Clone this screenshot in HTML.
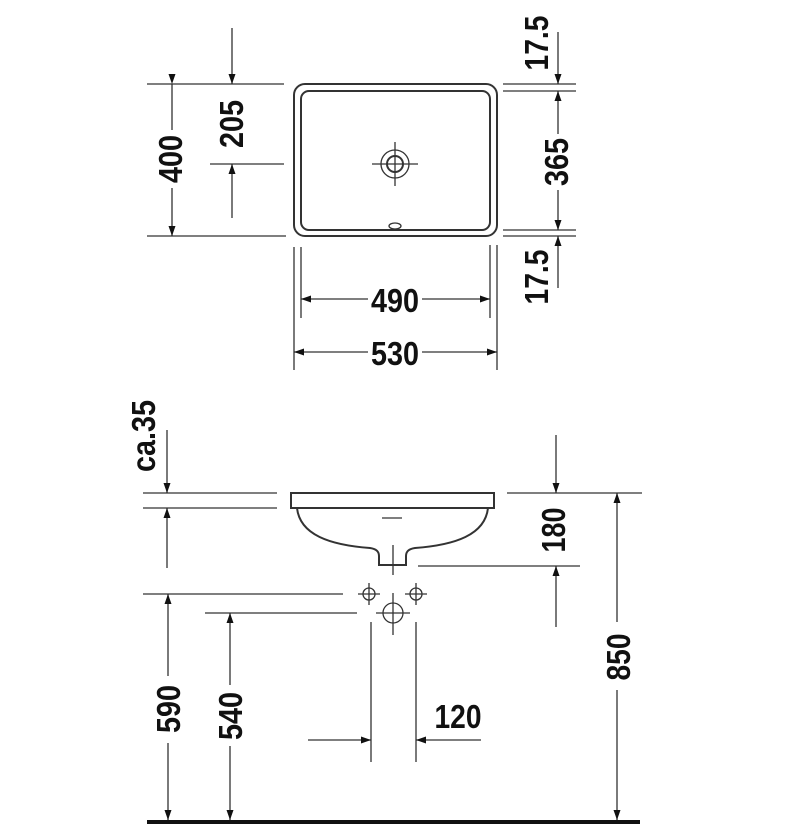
<!DOCTYPE html>
<html><head><style>
html,body{margin:0;padding:0;background:#fff;}
svg{display:block;}
text{font-family:"Liberation Sans",sans-serif;font-weight:bold;font-size:33px;fill:#111;}
</style></head><body>
<svg width="799" height="827" viewBox="0 0 799 827" xmlns="http://www.w3.org/2000/svg">
<defs>
<marker id="a" viewBox="0 0 10 10" refX="10" refY="5" markerWidth="15" markerHeight="10" markerUnits="userSpaceOnUse" orient="auto"><path d="M0,1.5 L10,5 L0,8.5 z" fill="#111"/></marker>
</defs>
<g stroke="#333" stroke-width="1.3" fill="none">
<rect x="294" y="84" width="203" height="152" rx="11" stroke-width="2"/>
<rect x="301" y="91" width="189" height="139" rx="8" stroke-width="2"/>
<circle cx="395" cy="164" r="14"/>
<circle cx="395" cy="164" r="8" stroke-width="2"/>
<line x1="372" y1="164" x2="418" y2="164"/>
<line x1="395" y1="142" x2="395" y2="186"/>
<ellipse cx="395" cy="226" rx="6" ry="3"/>
<line x1="147" y1="84" x2="284" y2="84"/>
<line x1="147" y1="236" x2="286" y2="236"/>
<line x1="210" y1="164" x2="284" y2="164"/>
<line x1="172" y1="84" x2="172" y2="130" marker-start="url(#a)"/>
<line x1="172" y1="188" x2="172" y2="236" marker-end="url(#a)"/>
<line x1="232" y1="28" x2="232" y2="84" marker-end="url(#a)"/>
<line x1="232" y1="218" x2="232" y2="164" marker-end="url(#a)"/>
<line x1="503" y1="84" x2="576" y2="84"/>
<line x1="503" y1="91" x2="576" y2="91"/>
<line x1="503" y1="230" x2="576" y2="230"/>
<line x1="503" y1="236" x2="576" y2="236"/>
<line x1="558" y1="32" x2="558" y2="84" marker-end="url(#a)"/>
<line x1="558" y1="134" x2="558" y2="91" marker-end="url(#a)"/>
<line x1="558" y1="190" x2="558" y2="230" marker-end="url(#a)"/>
<line x1="558" y1="288" x2="558" y2="236" marker-end="url(#a)"/>
<line x1="294" y1="247" x2="294" y2="370"/>
<line x1="301" y1="247" x2="301" y2="318"/>
<line x1="490" y1="245" x2="490" y2="318"/>
<line x1="497" y1="245" x2="497" y2="370"/>
<line x1="368" y1="299" x2="301" y2="299" marker-end="url(#a)"/>
<line x1="422" y1="299" x2="490" y2="299" marker-end="url(#a)"/>
<line x1="368" y1="352" x2="294" y2="352" marker-end="url(#a)"/>
<line x1="422" y1="352" x2="497" y2="352" marker-end="url(#a)"/>
<line x1="143" y1="493" x2="277" y2="493"/>
<line x1="507" y1="493" x2="642" y2="493"/>
<line x1="143" y1="508" x2="277" y2="508"/>
<rect x="291" y="493" width="203" height="15" stroke-width="2"/>
<path d="M297,508 C300,535 330,545 370,548 C377,549 379,552 379,556 L379,565 L406,565 L406,556 C406,552 408,549 415,548 C455,545 485,535 488,508" stroke-width="2"/>
<line x1="382" y1="518" x2="402" y2="518"/>
<line x1="393" y1="545" x2="393" y2="575"/>
<line x1="418" y1="566" x2="580" y2="566"/>
<line x1="167" y1="430" x2="167" y2="493" marker-end="url(#a)"/>
<line x1="167" y1="568" x2="167" y2="508" marker-end="url(#a)"/>
<line x1="556" y1="435" x2="556" y2="493" marker-end="url(#a)"/>
<line x1="556" y1="627" x2="556" y2="566" marker-end="url(#a)"/>
<line x1="617" y1="622" x2="617" y2="493" marker-end="url(#a)"/>
<line x1="617" y1="690" x2="617" y2="820" marker-end="url(#a)"/>
<line x1="143" y1="594" x2="343" y2="594"/>
<line x1="205" y1="613" x2="357" y2="613"/>
<line x1="168" y1="676" x2="168" y2="594" marker-end="url(#a)"/>
<line x1="168" y1="743" x2="168" y2="820" marker-end="url(#a)"/>
<line x1="230" y1="685" x2="230" y2="613" marker-end="url(#a)"/>
<line x1="230" y1="746" x2="230" y2="820" marker-end="url(#a)"/>
<circle cx="369" cy="594" r="6"/>
<line x1="358" y1="594" x2="380" y2="594"/><line x1="369" y1="583" x2="369" y2="605"/>
<circle cx="416" cy="594" r="6"/>
<line x1="405" y1="594" x2="427" y2="594"/><line x1="416" y1="583" x2="416" y2="605"/>
<circle cx="393" cy="613" r="10"/>
<line x1="376" y1="613" x2="410" y2="613"/><line x1="393" y1="593" x2="393" y2="635"/>
<line x1="371" y1="622" x2="371" y2="762"/>
<line x1="416" y1="622" x2="416" y2="762"/>
<line x1="308" y1="740" x2="371" y2="740" marker-end="url(#a)"/>
<line x1="481" y1="740" x2="416" y2="740" marker-end="url(#a)"/>
</g>
<line x1="147" y1="822" x2="640" y2="822" stroke="#111" stroke-width="4"/>
<text x="395" y="312" text-anchor="middle" textLength="48" lengthAdjust="spacingAndGlyphs">490</text>
<text x="395" y="365" text-anchor="middle" textLength="48" lengthAdjust="spacingAndGlyphs">530</text>
<text transform="translate(182,159) rotate(-90)" text-anchor="middle" textLength="48" lengthAdjust="spacingAndGlyphs">400</text>
<text transform="translate(243,124) rotate(-90)" text-anchor="middle" textLength="48" lengthAdjust="spacingAndGlyphs">205</text>
<text transform="translate(548,43) rotate(-90)" text-anchor="middle" textLength="55" lengthAdjust="spacingAndGlyphs">17.5</text>
<text transform="translate(568,162) rotate(-90)" text-anchor="middle" textLength="48" lengthAdjust="spacingAndGlyphs">365</text>
<text transform="translate(548,277) rotate(-90)" text-anchor="middle" textLength="55" lengthAdjust="spacingAndGlyphs">17.5</text>
<text transform="translate(155,436) rotate(-90)" text-anchor="middle" textLength="72" lengthAdjust="spacingAndGlyphs">ca.35</text>
<text transform="translate(565,530) rotate(-90)" text-anchor="middle" textLength="45" lengthAdjust="spacingAndGlyphs">180</text>
<text transform="translate(630,657) rotate(-90)" text-anchor="middle" textLength="47" lengthAdjust="spacingAndGlyphs">850</text>
<text transform="translate(180,709) rotate(-90)" text-anchor="middle" textLength="48" lengthAdjust="spacingAndGlyphs">590</text>
<text transform="translate(242,716) rotate(-90)" text-anchor="middle" textLength="48" lengthAdjust="spacingAndGlyphs">540</text>
<text x="458" y="728" text-anchor="middle" textLength="47" lengthAdjust="spacingAndGlyphs">120</text>
</svg>
</body></html>
